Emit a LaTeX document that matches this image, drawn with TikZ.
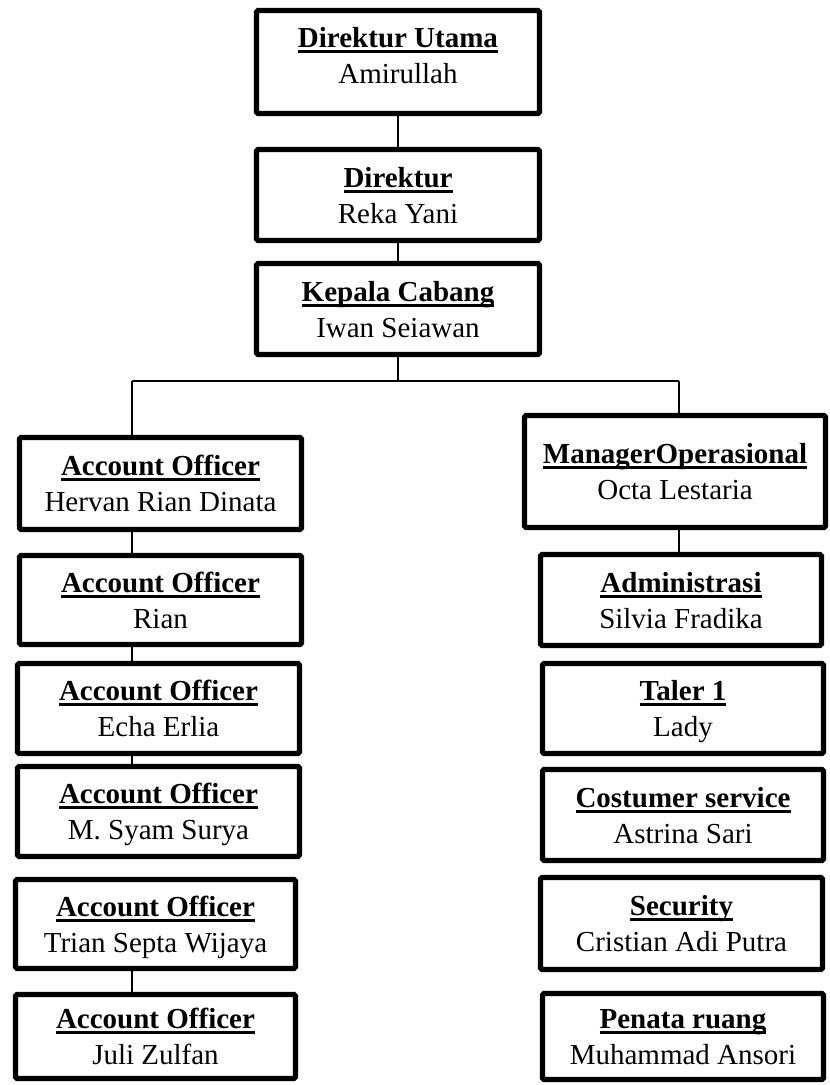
\documentclass[tikz,border=0pt]{standalone}
\usepackage{fontspec}
\setmainfont{Liberation Serif}
\newsavebox\ulbox
\newcommand\ulbold[1]{\sbox\ulbox{\bfseries #1}\leavevmode\rlap{\rule[-5.6pt]{\wd\ulbox}{2.8pt}}\usebox\ulbox}
\tikzset{
  orgbox/.style={draw, line width=5.2pt, rounded corners=1.5pt, align=center,
    font=\fontsize{29}{36}\selectfont, inner sep=0pt, fill=white,
    text height=56pt, text depth=0pt},
  conn/.style={line width=1.2pt}
}
\begin{document}
\begin{tikzpicture}[x=1pt,y=-1pt]
\fill[white] (0,0) rectangle (830,1085);
\useasboundingbox (0,0) rectangle (830,1085);
% top chain
\node[orgbox, minimum width=283pt, minimum height=103pt, text depth=14pt] (du) at (398,62) {\ulbold{Direktur Utama}\\Amirullah};
\node[orgbox, minimum width=283pt, minimum height=91pt] (dir) at (398,195) {\ulbold{Direktur}\\Reka Yani};
\node[orgbox, minimum width=283pt, minimum height=91pt] (kc) at (398,309) {\ulbold{Kepala Cabang}\\Iwan Seiawan};
% left column
\node[orgbox, minimum width=282pt, minimum height=92pt] (ao1) at (160.5,483.5) {\ulbold{Account Officer}\\Hervan Rian Dinata};
\node[orgbox, minimum width=282pt, minimum height=89pt] (ao2) at (160.5,600) {\ulbold{Account Officer}\\Rian};
\node[orgbox, minimum width=282pt, minimum height=90pt] (ao3) at (158.5,708.5) {\ulbold{Account Officer}\\Echa Erlia};
\node[orgbox, minimum width=282pt, minimum height=90pt] (ao4) at (158.5,811.5) {\ulbold{Account Officer}\\M. Syam Surya};
\node[orgbox, minimum width=280pt, minimum height=89pt] (ao5) at (155.5,924) {\ulbold{Account Officer}\\Trian Septa Wijaya};
\node[orgbox, minimum width=280pt, minimum height=84pt] (ao6) at (155.5,1036.5) {\ulbold{Account Officer}\\Juli Zulfan};
% right column
\node[orgbox, minimum width=301pt, minimum height=112pt] (mo) at (675,471.5) {\ulbold{ManagerOperasional}\\Octa Lestaria};
\node[orgbox, minimum width=281pt, minimum height=91pt] (adm) at (681,600) {\ulbold{Administrasi}\\Silvia Fradika};
\node[orgbox, minimum width=281pt, minimum height=90pt] (tal) at (683,708.5) {\ulbold{Taler 1}\\Lady};
\node[orgbox, minimum width=281pt, minimum height=91pt] (cs) at (683,815) {\ulbold{Costumer service}\\Astrina Sari};
\node[orgbox, minimum width=282pt, minimum height=92pt] (sec) at (681.5,923.5) {\ulbold{Security}\\Cristian Adi Putra};
\node[orgbox, minimum width=281pt, minimum height=86pt] (pr) at (683,1036.5) {\ulbold{Penata ruang}\\Muhammad Ansori};
% junctions
\coordinate (jc) at (398,381);
\coordinate (jl) at (132,381);
\coordinate (jr) at (679,381);
% connectors
\draw[conn] (du.south) -- (dir.north);
\draw[conn] (dir.south) -- (kc.north);
\draw[conn] (kc.south) -- (jc);
\draw[conn] (jl) -- (jr);
\draw[conn] (jl) -- (jl |- ao1.north);
\draw[conn] (jr) -- (jr |- mo.north);
\draw[conn] (ao1.south -| jl) -- (ao2.north -| jl);
\draw[conn] (ao2.south -| jl) -- (ao3.north -| jl);
\draw[conn] (ao3.south -| jl) -- (ao4.north -| jl);
\draw[conn] (ao5.south -| jl) -- (ao6.north -| jl);
\draw[conn] (mo.south -| jr) -- (adm.north -| jr);
\end{tikzpicture}
\end{document}
